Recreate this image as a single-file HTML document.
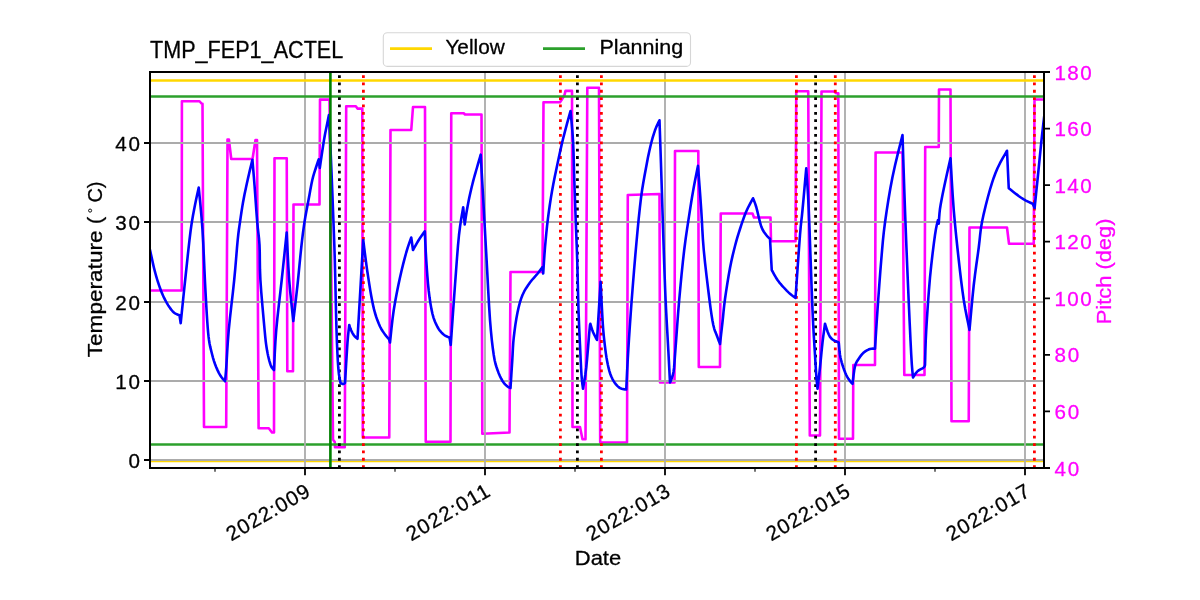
<!DOCTYPE html>
<html><head><meta charset="utf-8"><title>TMP_FEP1_ACTEL</title><style>html,body{margin:0;padding:0;background:#fff;}svg{display:block;}</style></head><body>
<svg width="1200" height="600" viewBox="0 0 1200 600" font-family='"Liberation Sans", sans-serif'>
<rect width="1200" height="600" fill="#fff"/>
<defs><clipPath id="pc"><rect x="150" y="72" width="894" height="396"/></clipPath></defs>
<g clip-path="url(#pc)">
<polyline points="150.00,290.50 181.70,290.50 181.90,101.25 199.50,101.25 201.75,103.75 202.50,103.75 204.00,427.00 226.20,427.00 227.50,139.50 228.90,139.50 231.25,159.00 252.50,159.00 255.50,140.00 257.00,140.00 258.60,428.25 268.75,428.25 272.00,432.50 274.00,432.50 274.50,158.25 286.75,158.25 287.30,371.25 293.00,371.25 293.50,204.50 319.50,204.50 320.00,99.60 329.50,99.60 333.00,439.50 334.75,442.00 335.00,447.25 344.75,447.25 346.20,106.25 355.80,106.25 357.50,108.60 362.30,108.60 362.80,437.50 389.25,437.50 390.50,130.00 411.25,130.00 413.00,107.00 425.00,107.00 425.75,441.75 450.50,441.75 451.25,113.25 463.75,113.25 465.00,114.50 481.50,114.50 482.30,433.75 509.50,432.50 510.50,272.00 542.50,272.00 543.50,102.30 560.00,102.30 561.50,100.00 564.50,95.00 565.50,90.90 572.00,90.90 572.50,427.00 580.00,427.00 582.50,439.25 585.50,439.25 587.30,87.75 599.00,87.75 600.20,442.50 627.00,442.50 627.80,195.00 659.50,194.00 660.00,382.50 674.50,382.50 675.00,151.00 698.30,151.00 698.80,367.00 720.00,367.00 720.75,213.50 752.50,213.50 754.00,217.50 770.50,217.50 771.00,241.25 795.50,241.25 796.25,91.25 808.25,91.25 809.80,435.50 820.00,435.50 821.50,91.50 833.75,91.50 836.25,93.25 838.30,93.25 839.00,438.75 853.00,438.75 853.30,365.00 875.00,365.00 875.60,152.50 902.50,152.50 904.30,375.00 924.50,375.00 925.20,147.00 938.75,147.00 939.00,89.50 950.50,89.50 951.50,421.25 968.75,421.25 969.50,227.50 1007.00,227.50 1009.00,243.75 1033.75,243.75 1034.50,99.50 1046.00,99.50" fill="none" stroke="#ff00ff" stroke-width="2.6" stroke-linejoin="round" stroke-linecap="square"/>
<path d="M150,460.9H1044" stroke="#ffd700" stroke-width="2.6" fill="none"/>
<path d="M150,444.45H1044" stroke="#2ca02c" stroke-width="2.6" fill="none"/>
<path d="M305,72.0V468.0M485,72.0V468.0M665,72.0V468.0M845,72.0V468.0M1025,72.0V468.0M150.0,460H1044.0M150.0,381H1044.0M150.0,302H1044.0M150.0,222H1044.0M150.0,143H1044.0" stroke="#ababab" stroke-width="1.8" fill="none"/>
<path d="M150,80.45H1044" stroke="#ffd700" stroke-width="2.6" fill="none"/>
<path d="M150,96.45H1044" stroke="#2ca02c" stroke-width="2.6" fill="none"/>
<path d="M339.4,468V72" stroke="#000" stroke-width="2.78" stroke-dasharray="2.78,4.58"/>
<path d="M577.4,468V72" stroke="#000" stroke-width="2.78" stroke-dasharray="2.78,4.58"/>
<path d="M815.6,468V72" stroke="#000" stroke-width="2.78" stroke-dasharray="2.78,4.58"/>
<path d="M363.4,468V72" stroke="#ff0000" stroke-width="2.78" stroke-dasharray="2.78,4.58"/>
<path d="M560.4,468V72" stroke="#ff0000" stroke-width="2.78" stroke-dasharray="2.78,4.58"/>
<path d="M601.4,468V72" stroke="#ff0000" stroke-width="2.78" stroke-dasharray="2.78,4.58"/>
<path d="M796.4,468V72" stroke="#ff0000" stroke-width="2.78" stroke-dasharray="2.78,4.58"/>
<path d="M835.3,468V72" stroke="#ff0000" stroke-width="2.78" stroke-dasharray="2.78,4.58"/>
<path d="M1034.4,468V72" stroke="#ff0000" stroke-width="2.78" stroke-dasharray="2.78,4.58"/>
<polyline points="150.00,250.00 150.36,251.62 150.88,253.94 151.45,256.54 152.00,259.00 152.48,261.20 152.94,263.38 153.43,265.61 154.00,268.00 154.68,270.66 155.44,273.50 156.23,276.34 157.00,279.00 157.75,281.43 158.50,283.72 159.25,285.90 160.00,288.00 160.75,290.02 161.50,291.94 162.25,293.77 163.00,295.50 163.75,297.13 164.50,298.66 165.25,300.11 166.00,301.50 166.75,302.84 167.50,304.12 168.25,305.34 169.00,306.50 169.75,307.60 170.50,308.64 171.25,309.61 172.00,310.50 172.71,311.30 173.41,312.02 174.14,312.68 175.00,313.30 176.12,313.90 177.44,314.48 178.66,314.96 179.50,315.30 180.70,323.20 181.60,314.46 182.89,301.91 184.33,287.95 185.70,275.00 186.97,263.06 188.24,251.05 189.50,239.77 190.70,230.00 191.84,222.17 192.93,215.78 193.98,210.25 195.00,205.00 196.06,199.69 197.14,194.69 198.09,190.47 198.75,187.50 199.45,194.91 200.47,205.50 201.56,217.71 202.50,230.00 203.22,242.61 203.84,256.16 204.42,269.62 205.00,282.00 205.60,293.36 206.20,304.12 206.77,313.83 207.30,322.00 207.75,328.19 208.14,332.75 208.53,336.44 209.00,340.00 209.55,343.42 210.14,346.38 210.79,349.14 211.50,352.00 212.27,355.02 213.09,358.06 214.00,361.07 215.00,364.00 216.14,366.93 217.41,369.86 218.71,372.61 220.00,375.00 221.37,377.04 222.81,378.81 224.10,380.24 225.00,381.25 225.20,379.34 225.47,376.72 225.82,372.93 226.25,367.50 226.72,360.09 227.24,351.02 227.89,340.81 228.75,330.00 229.95,318.14 231.41,305.16 232.91,292.09 234.20,280.00 235.24,268.78 236.15,258.00 236.96,248.22 237.70,240.00 238.34,233.99 238.88,229.72 239.40,226.09 240.00,222.00 240.70,217.12 241.46,212.06 242.23,207.09 243.00,202.50 243.75,198.40 244.50,194.62 245.25,191.04 246.00,187.50 246.74,184.04 247.47,180.71 248.22,177.40 249.00,174.00 249.90,170.15 250.89,166.01 251.78,162.29 252.40,159.70 252.76,163.97 253.28,170.04 253.88,177.26 254.50,185.00 255.14,193.76 255.84,203.64 256.54,213.46 257.20,222.00 257.84,228.45 258.46,233.62 259.03,238.73 259.50,245.00 259.75,252.55 259.83,260.81 259.98,269.91 260.40,280.00 261.27,292.22 262.44,306.12 263.63,319.47 264.60,330.00 265.23,336.70 265.67,340.91 266.05,343.91 266.50,347.00 267.03,350.34 267.59,353.31 268.16,356.00 268.75,358.50 269.35,360.85 269.97,363.00 270.60,364.90 271.25,366.50 271.98,367.77 272.78,368.75 273.50,369.48 274.00,370.00 274.33,363.05 274.78,353.12 275.41,341.64 276.25,330.00 277.40,318.14 278.80,305.47 280.29,292.56 281.70,280.00 283.10,266.84 284.54,253.12 285.81,240.98 286.70,232.50 287.11,241.19 287.69,253.69 288.40,267.47 289.20,280.00 290.21,291.67 291.41,303.47 292.53,313.79 293.30,321.00 294.07,314.57 295.17,305.34 296.38,294.95 297.50,285.00 298.48,275.45 299.43,265.59 300.36,256.07 301.25,247.50 302.08,240.20 302.86,233.78 303.65,227.85 304.50,222.00 305.45,216.21 306.47,210.66 307.50,205.28 308.50,200.00 309.48,194.65 310.45,189.31 311.40,184.32 312.30,180.00 313.14,176.59 313.94,173.86 314.71,171.45 315.50,169.00 316.38,166.26 317.30,163.46 318.12,161.01 318.70,159.30 319.80,168.00 320.59,162.62 321.74,154.81 322.97,146.60 324.00,140.00 324.75,135.67 325.36,132.50 325.92,129.83 326.50,127.00 327.16,123.65 327.86,120.19 328.47,117.13 328.90,115.00 329.28,122.97 329.82,134.38 330.43,147.34 331.00,160.00 331.51,172.15 332.02,184.69 332.52,197.38 333.00,210.00 333.47,222.03 333.92,233.75 334.36,246.09 334.80,260.00 335.23,276.84 335.65,295.75 336.07,314.28 336.50,330.00 336.93,342.29 337.37,352.44 337.82,360.87 338.30,368.00 338.87,373.72 339.51,377.88 340.10,380.84 340.50,383.00 340.96,383.23 341.62,383.56 342.35,383.87 343.00,384.00 343.58,383.87 344.16,383.56 344.65,383.23 345.00,383.00 345.47,375.18 346.14,363.84 346.87,351.96 347.50,342.50 348.03,336.10 348.53,331.22 348.95,327.61 349.25,325.00 349.54,325.89 349.94,327.16 350.43,328.60 351.00,330.00 351.65,331.39 352.39,332.86 353.19,334.27 354.00,335.50 354.92,336.55 355.94,337.47 356.86,338.22 357.50,338.75 363.25,240.00 363.66,243.32 364.25,248.09 364.90,253.32 365.50,258.00 365.98,261.66 366.41,264.91 366.88,268.32 367.50,272.50 368.31,277.89 369.27,284.09 370.27,290.37 371.25,296.00 372.16,300.79 373.05,305.12 373.97,309.15 375.00,313.00 376.16,316.75 377.42,320.31 378.72,323.59 380.00,326.50 381.28,328.97 382.58,331.06 383.84,332.88 385.00,334.50 386.08,335.89 387.11,337.03 388.02,338.03 388.75,339.00 389.27,340.03 389.61,341.03 389.83,341.89 390.00,342.50 390.62,336.66 391.48,328.28 392.55,318.89 393.75,310.00 395.14,301.70 396.72,293.28 398.38,285.10 400.00,277.50 401.59,270.49 403.20,263.91 404.78,257.87 406.25,252.50 407.71,247.70 409.14,243.44 410.38,239.96 411.25,237.50 413.00,250.00 414.03,248.17 415.50,245.55 417.16,242.65 418.75,240.00 420.38,237.52 422.13,235.00 423.71,232.79 424.80,231.25 425.04,236.36 425.37,243.69 425.78,251.98 426.25,260.00 426.77,267.78 427.36,275.86 428.01,283.76 428.75,291.00 429.57,297.55 430.47,303.62 431.45,309.14 432.50,314.00 433.66,318.11 434.92,321.53 436.22,324.44 437.50,327.00 438.79,329.18 440.09,330.91 441.36,332.31 442.50,333.50 443.48,334.43 444.34,335.06 445.16,335.54 446.00,336.00 446.96,336.48 447.97,336.91 448.87,337.25 449.50,337.50 450.75,345.00 451.52,333.98 452.62,318.12 453.86,300.70 455.00,285.00 456.01,271.28 457.00,257.99 457.99,245.70 459.00,235.00 460.13,225.84 461.35,217.97 462.44,211.67 463.20,207.20 464.70,224.50 465.01,222.34 465.46,219.25 465.98,215.78 466.50,212.50 467.02,209.46 467.57,206.41 468.13,203.39 468.70,200.50 469.25,197.80 469.80,195.25 470.37,192.70 471.00,190.00 471.70,187.07 472.46,184.00 473.23,180.93 474.00,178.00 474.73,175.32 475.46,172.80 476.20,170.25 477.00,167.50 477.96,164.16 479.04,160.44 480.02,157.05 480.70,154.70 481.12,161.95 481.71,172.35 482.38,184.00 483.00,195.00 483.58,205.37 484.16,215.96 484.71,226.06 485.20,235.00 485.56,241.48 485.83,246.25 486.13,251.64 486.60,260.00 487.30,273.12 488.15,289.38 489.08,305.94 490.00,320.00 490.91,330.98 491.85,340.31 492.80,348.24 493.75,355.00 494.66,360.25 495.55,364.00 496.47,367.00 497.50,370.00 498.66,373.16 499.92,376.09 501.22,378.73 502.50,381.00 503.80,382.86 505.12,384.34 506.39,385.54 507.50,386.50 508.46,387.19 509.31,387.59 510.01,387.82 510.50,388.00 510.83,382.84 511.31,375.41 511.83,367.27 512.30,360.00 512.63,354.05 512.90,348.56 513.23,343.17 513.75,337.50 514.50,331.25 515.40,324.69 516.42,318.28 517.50,312.50 518.60,307.48 519.77,302.97 521.04,298.85 522.50,295.00 524.20,291.44 526.09,288.20 528.07,285.24 530.00,282.50 531.93,280.00 533.91,277.77 535.80,275.71 537.50,273.75 539.04,271.76 540.47,269.83 541.66,268.17 542.50,267.00 543.20,273.50 543.50,268.89 543.92,262.29 544.43,254.80 545.00,247.50 545.62,240.49 546.31,233.24 547.06,225.95 547.90,218.80 548.81,211.84 549.79,204.98 550.85,198.15 552.00,191.30 553.28,184.35 554.66,177.35 556.09,170.44 557.50,163.75 558.83,157.44 560.12,151.40 561.48,145.35 563.00,139.00 564.91,131.57 567.09,123.45 569.11,116.11 570.50,111.00 570.98,115.95 571.67,123.00 572.40,131.30 573.00,140.00 573.41,149.23 573.72,159.31 574.00,169.74 574.30,180.00 574.64,190.00 574.99,200.00 575.34,210.00 575.70,220.00 576.07,229.77 576.46,239.38 576.84,249.30 577.20,260.00 577.53,272.15 577.85,285.31 578.17,298.32 578.50,310.00 578.86,319.92 579.24,328.75 579.62,336.95 580.00,345.00 580.38,353.23 580.75,361.33 581.12,368.76 581.50,375.00 581.91,379.90 582.34,383.75 582.73,386.66 583.00,388.75 583.58,385.31 584.42,380.47 585.36,374.45 586.25,367.50 587.12,358.54 588.03,347.81 588.86,337.56 589.50,330.00 589.89,326.09 590.10,324.53 590.21,324.14 590.30,323.75 590.75,325.24 591.40,327.38 592.17,329.76 593.00,332.00 594.00,334.21 595.17,336.52 596.25,338.57 597.00,340.00 600.60,281.90 601.00,289.94 601.57,301.59 602.21,313.92 602.80,324.00 603.33,331.03 603.85,336.58 604.37,341.29 604.90,345.80 605.42,350.12 605.93,353.95 606.48,357.51 607.10,361.00 607.80,364.51 608.56,367.91 609.39,371.10 610.30,374.00 611.29,376.55 612.36,378.82 613.50,380.86 614.70,382.70 615.96,384.38 617.29,385.86 618.67,387.11 620.10,388.10 621.73,388.76 623.51,389.14 625.13,389.34 626.25,389.50 626.59,382.65 627.06,372.88 627.64,361.54 628.30,350.00 629.02,338.43 629.83,326.16 630.72,313.31 631.70,300.00 632.81,285.73 634.03,270.62 635.29,255.70 636.50,242.00 637.64,229.64 638.76,218.12 639.88,207.55 641.00,198.00 642.14,189.76 643.29,182.71 644.44,176.29 645.60,170.00 646.77,163.68 647.94,157.62 649.12,151.93 650.30,146.70 651.48,141.97 652.66,137.67 653.84,133.79 655.00,130.30 656.24,127.11 657.54,124.25 658.70,121.91 659.50,120.25 659.85,130.75 660.36,145.75 660.94,162.94 661.50,180.00 662.05,197.25 662.63,215.61 663.21,233.67 663.75,250.00 664.22,263.91 664.65,276.25 665.09,287.97 665.60,300.00 666.24,312.91 666.96,326.09 667.68,338.73 668.30,350.00 668.84,360.12 669.32,369.38 669.72,377.07 670.00,382.50 670.67,380.88 671.63,378.62 672.66,375.68 673.50,372.00 674.04,367.96 674.43,363.47 674.83,357.74 675.40,350.00 676.19,339.47 677.11,326.75 678.12,313.16 679.20,300.00 680.35,287.27 681.58,274.38 682.87,261.80 684.20,250.00 685.64,238.92 687.16,228.38 688.66,218.64 690.00,210.00 691.13,202.79 692.11,196.77 693.04,191.36 694.00,186.00 695.09,180.20 696.25,174.38 697.28,169.30 698.00,165.75 698.60,173.80 699.47,185.38 700.41,198.20 701.25,210.00 701.85,220.06 702.34,229.64 702.91,239.40 703.75,250.00 705.00,262.38 706.54,275.94 708.12,289.02 709.50,300.00 710.59,308.34 711.53,314.94 712.40,320.32 713.30,325.00 714.25,328.80 715.20,331.56 716.13,333.79 717.00,336.00 717.87,338.40 718.73,340.69 719.48,342.63 720.00,344.00 720.45,340.07 721.09,334.44 721.82,328.09 722.50,322.00 723.07,316.51 723.59,311.06 724.20,305.34 725.00,299.00 726.07,291.60 727.34,283.44 728.69,275.30 730.00,268.00 731.25,261.75 732.50,256.12 733.75,250.94 735.00,246.00 736.23,241.40 737.44,237.19 738.68,233.13 740.00,229.00 741.41,224.67 742.88,220.30 744.41,216.02 746.00,212.00 747.84,208.01 749.88,204.06 751.72,200.64 753.00,198.25 753.54,199.57 754.31,201.41 755.24,203.85 756.25,207.00 757.38,211.38 758.64,216.77 759.96,222.15 761.25,226.50 762.53,229.51 763.83,231.73 765.09,233.47 766.25,235.00 767.36,236.36 768.44,237.41 769.36,238.19 770.00,238.75 771.75,270.00 772.77,271.86 774.23,274.53 775.89,277.44 777.50,280.00 779.03,282.08 780.59,283.98 782.18,285.77 783.75,287.50 785.33,289.20 786.92,290.83 788.49,292.36 790.00,293.75 791.56,295.05 793.14,296.27 794.53,297.28 795.50,298.00 796.36,285.79 797.59,268.06 798.91,249.55 800.00,235.00 800.74,226.47 801.30,221.17 801.83,216.54 802.50,210.00 803.44,199.76 804.53,187.56 805.55,176.14 806.25,168.25 806.67,174.39 807.27,182.88 807.98,194.49 808.75,210.00 809.63,232.19 810.62,259.80 811.62,287.50 812.50,310.00 813.24,325.70 813.91,337.50 814.49,346.80 815.00,355.00 815.40,361.90 815.70,366.95 815.97,371.03 816.25,375.00 816.59,379.20 816.95,383.12 817.28,386.43 817.50,388.75 817.95,385.02 818.59,379.69 819.32,373.57 820.00,367.50 820.62,361.37 821.25,354.84 821.88,348.40 822.50,342.50 823.18,336.93 823.91,331.56 824.55,326.97 825.00,323.75 825.67,325.82 826.64,328.81 827.72,331.96 828.75,334.50 829.63,336.20 830.47,337.48 831.39,338.53 832.50,339.50 834.03,340.46 835.86,341.31 837.57,342.01 838.75,342.50 838.95,344.80 839.22,348.12 839.57,351.76 840.00,355.00 840.51,357.68 841.09,360.16 841.76,362.56 842.50,365.00 843.35,367.59 844.30,370.25 845.28,372.78 846.25,375.00 847.22,376.86 848.20,378.45 849.15,379.82 850.00,381.00 850.77,381.98 851.48,382.75 852.08,383.33 852.50,383.75 852.92,380.37 853.52,375.47 854.23,370.33 855.00,366.25 855.82,363.64 856.72,361.80 857.70,360.30 858.75,358.75 859.88,357.04 861.09,355.38 862.38,353.84 863.75,352.50 865.25,351.36 866.88,350.38 868.50,349.58 870.00,349.00 871.46,348.70 872.89,348.66 874.13,348.72 875.00,348.75 875.42,342.05 876.02,332.50 876.73,321.39 877.50,310.00 878.35,298.00 879.30,284.92 880.28,271.88 881.25,260.00 882.10,249.93 882.89,240.97 883.80,232.14 885.00,222.50 886.55,211.61 888.36,200.03 890.36,188.32 892.50,177.00 895.06,165.27 897.97,153.16 900.64,142.46 902.50,135.00 902.94,148.48 903.56,167.81 904.28,189.49 905.00,210.00 905.71,228.87 906.45,247.81 907.22,266.60 908.00,285.00 908.83,303.96 909.70,323.28 910.54,340.96 911.25,355.00 911.83,364.49 912.33,370.62 912.72,374.57 913.00,377.50 913.77,376.32 914.86,374.61 916.15,372.78 917.50,371.25 919.06,370.11 920.83,369.14 922.50,368.29 923.75,367.50 924.44,366.73 924.77,366.02 924.89,365.42 925.00,365.00 925.17,359.12 925.39,350.78 925.73,340.80 926.25,330.00 926.98,317.87 927.89,304.22 928.92,290.33 930.00,277.50 931.21,265.53 932.55,253.91 933.86,243.46 935.00,235.00 935.96,228.96 936.81,224.84 937.51,222.05 938.00,220.00 938.75,223.75 938.92,221.13 939.16,217.39 939.50,213.07 940.00,208.70 940.72,204.23 941.61,199.43 942.57,194.59 943.50,190.00 944.38,185.74 945.25,181.65 946.12,177.66 947.00,173.70 947.96,169.42 948.97,164.96 949.87,161.01 950.50,158.25 951.04,167.59 951.81,181.00 952.74,195.97 953.75,210.00 954.88,222.86 956.14,235.73 957.46,248.24 958.75,260.00 959.98,270.94 961.20,281.25 962.45,290.94 963.75,300.00 965.27,308.91 966.94,317.50 968.45,324.84 969.50,330.00 970.25,321.74 971.31,309.84 972.54,296.78 973.75,285.00 974.99,274.82 976.31,265.03 977.61,255.86 978.75,247.50 979.57,240.45 980.19,234.44 980.89,228.59 982.00,222.00 983.68,214.10 985.73,205.48 987.92,197.00 990.00,189.50 991.86,183.31 993.66,177.94 995.50,173.04 997.50,168.25 999.96,163.20 1002.72,158.17 1005.25,153.81 1007.00,150.75 1008.75,188.25 1009.82,189.11 1011.35,190.35 1013.14,191.77 1015.00,193.20 1016.93,194.66 1019.01,196.22 1021.19,197.77 1023.40,199.20 1025.88,200.56 1028.58,201.87 1031.01,203.01 1032.70,203.80 1034.60,208.00 1035.22,202.00 1036.11,193.38 1037.10,183.81 1038.00,175.00 1038.79,167.08 1039.57,159.25 1040.31,151.80 1041.00,145.00 1041.64,138.95 1042.23,133.50 1042.78,128.55 1043.30,124.00 1043.81,119.68 1044.29,115.69 1044.71,112.35 1045.00,110.00" fill="none" stroke="#0000ff" stroke-width="2.6" stroke-linejoin="round" stroke-linecap="square"/>
<path d="M330.4,468V72" stroke="#008000" stroke-width="2.6"/>
</g>
<rect x="150.0" y="72.0" width="894.0" height="396.0" fill="none" stroke="#000" stroke-width="2"/>
<path d="M150.0,460h-6M150.0,381h-6M150.0,302h-6M150.0,222h-6M150.0,143h-6M1044.0,468.00h6M1044.0,411.43h6M1044.0,354.86h6M1044.0,298.29h6M1044.0,241.72h6M1044.0,185.14h6M1044.0,128.57h6M1044.0,72.00h6M305,468.0v7.3M485,468.0v7.3M665,468.0v7.3M845,468.0v7.3M1025,468.0v7.3" stroke="#000" stroke-width="1.8" fill="none"/>
<path d="M215,468.0v3.8M395,468.0v3.8M575,468.0v3.8M755,468.0v3.8M935,468.0v3.8" stroke="#000" stroke-width="1.1" fill="none"/>
<g opacity="0.999" stroke="#000" stroke-width="0.3" stroke-linejoin="round">
<text x="140.05" y="468.20" font-size="20.6" text-anchor="end" textLength="12.37" lengthAdjust="spacing">0</text>
<text x="140.05" y="389.20" font-size="20.6" text-anchor="end" textLength="24.74" lengthAdjust="spacing">10</text>
<text x="140.05" y="310.20" font-size="20.6" text-anchor="end" textLength="24.74" lengthAdjust="spacing">20</text>
<text x="140.05" y="230.20" font-size="20.6" text-anchor="end" textLength="24.74" lengthAdjust="spacing">30</text>
<text x="140.05" y="151.20" font-size="20.6" text-anchor="end" textLength="24.74" lengthAdjust="spacing">40</text>
<text x="1054.50" y="475.50" font-size="20.6" fill="#ff00ff" stroke="#ff00ff" textLength="24.74" lengthAdjust="spacing">40</text>
<text x="1054.50" y="418.93" font-size="20.6" fill="#ff00ff" stroke="#ff00ff" textLength="24.74" lengthAdjust="spacing">60</text>
<text x="1054.50" y="362.36" font-size="20.6" fill="#ff00ff" stroke="#ff00ff" textLength="24.74" lengthAdjust="spacing">80</text>
<text x="1054.50" y="305.79" font-size="20.6" fill="#ff00ff" stroke="#ff00ff" textLength="37.11" lengthAdjust="spacing">100</text>
<text x="1054.50" y="249.22" font-size="20.6" fill="#ff00ff" stroke="#ff00ff" textLength="37.11" lengthAdjust="spacing">120</text>
<text x="1054.50" y="192.64" font-size="20.6" fill="#ff00ff" stroke="#ff00ff" textLength="37.11" lengthAdjust="spacing">140</text>
<text x="1054.50" y="136.07" font-size="20.6" fill="#ff00ff" stroke="#ff00ff" textLength="37.11" lengthAdjust="spacing">160</text>
<text x="1054.50" y="79.50" font-size="20.6" fill="#ff00ff" stroke="#ff00ff" textLength="37.11" lengthAdjust="spacing">180</text>
<g transform="translate(231.20,541.50) rotate(-30)"><text x="0.00" y="0.00" font-size="20.6" textLength="92.50" lengthAdjust="spacing">2022:009</text></g>
<g transform="translate(411.20,541.50) rotate(-30)"><text x="0.00" y="0.00" font-size="20.6" textLength="92.50" lengthAdjust="spacing">2022:011</text></g>
<g transform="translate(591.20,541.50) rotate(-30)"><text x="0.00" y="0.00" font-size="20.6" textLength="92.50" lengthAdjust="spacing">2022:013</text></g>
<g transform="translate(771.20,541.50) rotate(-30)"><text x="0.00" y="0.00" font-size="20.6" textLength="92.50" lengthAdjust="spacing">2022:015</text></g>
<g transform="translate(951.20,541.50) rotate(-30)"><text x="0.00" y="0.00" font-size="20.6" textLength="92.50" lengthAdjust="spacing">2022:017</text></g>
<text x="598.00" y="565.00" font-size="20.6" text-anchor="middle" textLength="46.46" lengthAdjust="spacingAndGlyphs">Date</text>
<g transform="translate(102.3,357.3) rotate(-90)"><text x="0.00" y="0.00" font-size="20.6" textLength="140.64" lengthAdjust="spacingAndGlyphs">Temperature (</text><circle cx="146.7" cy="-12.2" r="1.55" fill="none" stroke="#000" stroke-width="0.95"/><text x="154.70" y="0.00" font-size="20.6" textLength="21.16" lengthAdjust="spacingAndGlyphs">C)</text></g>
<g transform="translate(1110.9,324.3) rotate(-90)"><text x="0.00" y="0.00" font-size="20.6" fill="#ff00ff" stroke="#ff00ff" textLength="105.74" lengthAdjust="spacingAndGlyphs">Pitch (deg)</text></g>
<text x="150.00" y="58.00" font-size="23.5" textLength="193.25" lengthAdjust="spacingAndGlyphs">TMP_FEP1_ACTEL</text>
<rect x="383.3" y="32.8" width="307.2" height="33.6" rx="4" ry="4" fill="#fff" fill-opacity="0.8" stroke="#d6d6d6" stroke-width="1.1"/>
<path d="M390,48.6H432" stroke="#ffd700" stroke-width="2.6"/>
<path d="M543,48.6H585" stroke="#2ca02c" stroke-width="2.6"/>
<text x="445.40" y="53.80" font-size="20.6" textLength="59.30" lengthAdjust="spacingAndGlyphs">Yellow</text>
<text x="599.50" y="53.80" font-size="20.6" textLength="83.74" lengthAdjust="spacingAndGlyphs">Planning</text>
</g>
</svg>
</body></html>
